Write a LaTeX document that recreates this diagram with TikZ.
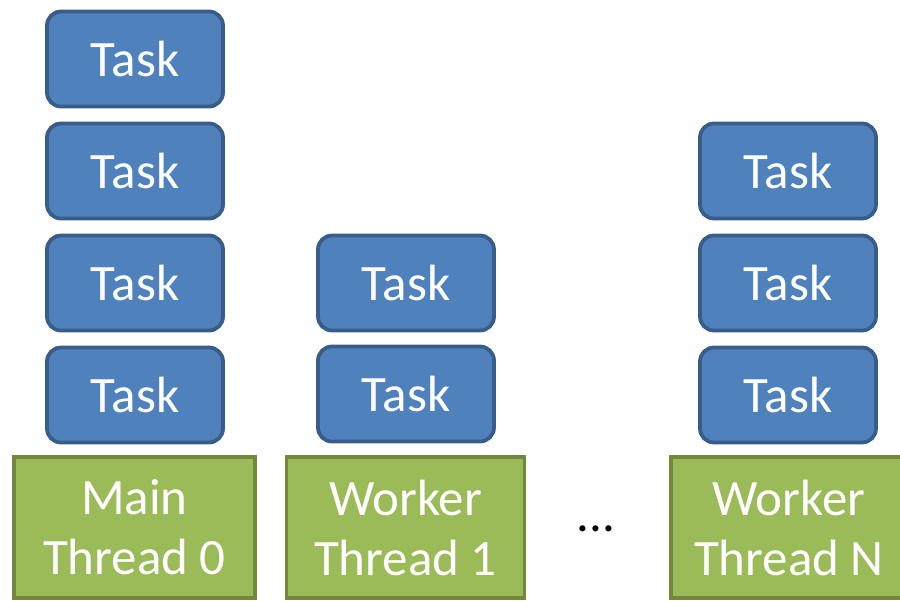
\documentclass[tikz,border=0pt]{standalone}
\usepackage{fontspec}
\setmainfont{Carlito}
\definecolor{taskfill}{HTML}{4F81BD}
\definecolor{taskline}{HTML}{385D8A}
\definecolor{threadfill}{HTML}{9BBB59}
\definecolor{threadline}{HTML}{71893F}
\tikzset{
  taskbox/.style={draw=taskline, fill=taskfill, line width=1.9pt,
    rounded corners=7pt, minimum width=88pt, minimum height=47.5pt,
    inner sep=0pt, text=white, font=\fontsize{25.5}{30}\selectfont},
  threadbox/.style={draw=threadline, fill=threadfill, line width=1.9pt,
    inner sep=0pt, text=white, align=center,
    font=\fontsize{25.5}{30}\selectfont}
}
\begin{document}
\begin{tikzpicture}[x=0.5pt, y=-0.5pt]
  \useasboundingbox (0,0) rectangle (900,601);
  \clip (0,0) rectangle (900,601);

  % thread bases
  \node[threadbox, minimum width=241pt/2, minimum height=141pt/2] (main) at (134.5,527.5) {Main\\Thread 0};
  \node[threadbox, minimum width=238pt/2, minimum height=141pt/2] (w1) at (405.5,527.5) {Worker\\Thread 1};
  \node[threadbox, minimum width=236pt/2, minimum height=141pt/2, anchor=west] (wn) at (669,527.5) {Worker\\Thread N};

  % task stacks
  \node[taskbox] (m1) at (135,395) {Task};
  \node[taskbox] (m2) at (135,283) {Task};
  \node[taskbox] (m3) at (135,171) {Task};
  \node[taskbox] (m4) at (135,59) {Task};

  \node[taskbox] (a1) at (406,394) {Task};
  \node[taskbox] (a2) at (406,283) {Task};

  \node[taskbox] (n1) at (788,395) {Task};
  \node[taskbox] (n2) at (788,283) {Task};
  \node[taskbox] (n3) at (788,171) {Task};

  % ellipsis between worker threads
  \node[font=\fontsize{25.5}{30}\selectfont, inner sep=0pt] (dots) at (596,529) {...};
\end{tikzpicture}
\end{document}
